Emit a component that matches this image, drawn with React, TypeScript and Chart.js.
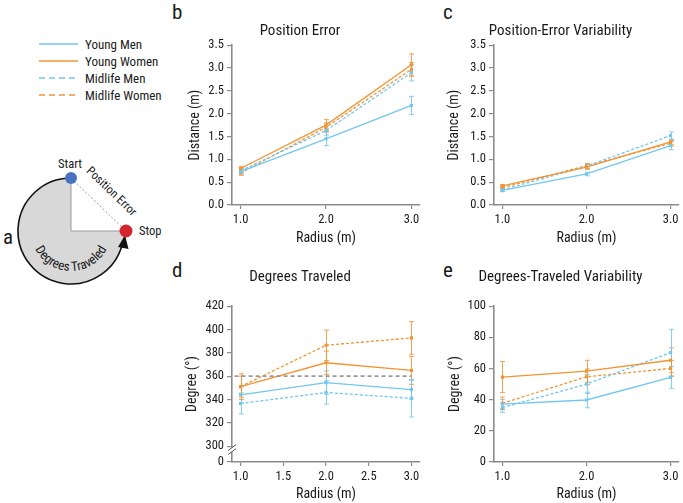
import React, { useEffect, useRef } from 'react';
import { Chart, registerables } from 'chart.js';

Chart.register(...registerables);

const FONT = "'Liberation Sans Narrow', 'Roboto Condensed', 'DejaVu Sans Condensed', 'Arial Narrow', Roboto, sans-serif";
const TEXT = '#1a1a1a';
const AXIS = '#8c8c8c';
Chart.defaults.font.family = FONT;

// ---------- shared categories / series ----------
const radiusValues = [1.0, 2.0, 3.0];
const seriesLabels = ['Young Men', 'Young Women', 'Midlife Men', 'Midlife Women'];
const seriesColors = ['#72c7ef', '#f29432', '#72c7ef', '#f29432'];
const seriesDashed = [false, false, true, true];

// ---------- b: Position Error (m) ----------
const posErrYoungMen = [0.73, 1.45, 2.18];
const posErrYoungWomen = [0.8, 1.75, 3.07];
const posErrMidlifeMen = [0.75, 1.63, 2.9];
const posErrMidlifeWomen = [0.7, 1.7, 2.97];
const posErrYoungMenSE = [0.05, 0.15, 0.2];
const posErrYoungWomenSE = [0.05, 0.12, 0.24];
const posErrMidlifeMenSE = [0.05, 0.1, 0.18];
const posErrMidlifeWomenSE = [0.05, 0.1, 0.15];

// ---------- c: Position-Error Variability (m) ----------
const posVarYoungMen = [0.32, 0.68, 1.3];
const posVarYoungWomen = [0.42, 0.83, 1.38];
const posVarMidlifeMen = [0.33, 0.85, 1.52];
const posVarMidlifeWomen = [0.38, 0.86, 1.35];
const posVarYoungMenSE = [0.03, 0.04, 0.09];
const posVarYoungWomenSE = [0.03, 0.05, 0.06];
const posVarMidlifeMenSE = [0.03, 0.05, 0.08];
const posVarMidlifeWomenSE = [0.03, 0.05, 0.06];

// ---------- d: Degrees Traveled (°) ----------
const degYoungMen = [344, 354.5, 348.5];
const degYoungWomen = [351, 371.5, 365];
const degMidlifeMen = [336.6, 346, 341];
const degMidlifeWomen = [351, 386.5, 392.8];
const degYoungMenSE = [7, 10, 8];
const degYoungWomenSE = [9, 10, 12];
const degMidlifeMenSE = [9, 10, 16];
const degMidlifeWomenSE = [11, 13, 14];
const fullCircleX = [0.93, 3.0];
const fullCircleY = [360, 360];

// ---------- e: Degrees-Traveled Variability (°) ----------
const degVarYoungMen = [37.2, 39.8, 54.3];
const degVarYoungWomen = [54.5, 58.3, 65.3];
const degVarMidlifeMen = [34.9, 50, 70.2];
const degVarMidlifeWomen = [37.7, 54.7, 60];
const degVarYoungMenSE = [3, 5, 7];
const degVarYoungWomenSE = [10, 7, 8];
const degVarMidlifeMenSE = [3, 6, 15];
const degVarMidlifeWomenSE = [4, 5, 5];

// ---------- tick labels ----------
const xTicksInt = [1.0, 2.0, 3.0];
const xTicksHalf = [1.0, 1.5, 2.0, 2.5, 3.0];
const distTicks = [0, 0.5, 1.0, 1.5, 2.0, 2.5, 3.0, 3.5];
const degBreakMin = 286.4;
const degTicks = [degBreakMin, 300, 320, 340, 360, 380, 400, 420];
const degVarTicks = [0, 20, 40, 60, 80, 100];

const errorBarPlugin = {
  id: 'errorBars',
  beforeDatasetsDraw(chart: any) {
    const { ctx } = chart;
    const xs = chart.scales.x;
    const ys = chart.scales.y;
    chart.data.datasets.forEach((ds: any) => {
      if (!ds.errors) return;
      ctx.save();
      ctx.strokeStyle = ds.borderColor;
      ctx.globalAlpha = 0.85;
      ctx.lineWidth = 1;
      ds.data.forEach((p: any, i: number) => {
        const e = ds.errors[i];
        const px = Math.round(xs.getPixelForValue(p.x)) + 0.5;
        const t = ys.getPixelForValue(p.y + e);
        const b = ys.getPixelForValue(p.y - e);
        ctx.beginPath();
        ctx.moveTo(px, t);
        ctx.lineTo(px, b);
        ctx.moveTo(px - 2.5, t);
        ctx.lineTo(px + 2.5, t);
        ctx.moveTo(px - 2.5, b);
        ctx.lineTo(px + 2.5, b);
        ctx.stroke();
      });
      ctx.restore();
    });
  },
};

const axisBreakPlugin = {
  id: 'axisBreak',
  afterDraw(chart: any) {
    if (!chart.options.plugins.axisBreak || !chart.options.plugins.axisBreak.enabled) return;
    const { ctx } = chart;
    const ys = chart.scales.y;
    const xa = chart.chartArea.left;
    const yc = ys.getPixelForValue(300) + 3.5;
    ctx.save();
    ctx.fillStyle = '#ffffff';
    ctx.fillRect(xa - 2, yc - 2, 4, 4);
    ctx.strokeStyle = '#555';
    ctx.lineWidth = 1;
    [-2, 2].forEach((off) => {
      ctx.beginPath();
      ctx.moveTo(xa - 4, yc + off + 3);
      ctx.lineTo(xa + 4, yc + off - 3);
      ctx.stroke();
    });
    ctx.restore();
  },
};

type PanelSpec = {
  left: number;
  top: number;
  width: number;
  height: number;
  title: string;
  yTitle: string;
  yMin: number;
  yMax: number;
  yTicks: number[];
  yFormat: (v: number) => string;
  xTicks: number[];
  means: number[][];
  errs: number[][];
  refLine?: boolean;
  yBreak?: boolean;
  yAxisWidth: number;
  yTitlePad: number;
  xAxisHeight: number;
  xTitlePadBottom: number;
  titlePadTop: number;
  titlePadBottom: number;
  padRight: number;
};

function ChartPanel({ spec }: { spec: PanelSpec }) {
  const ref = useRef<HTMLCanvasElement>(null);
  useEffect(() => {
    if (!ref.current) return;
    const datasets: any[] = spec.means.map((m, i) => ({
      label: seriesLabels[i],
      data: radiusValues.map((x, j) => ({ x, y: m[j] })),
      errors: spec.errs[i],
      borderColor: seriesColors[i],
      backgroundColor: seriesColors[i],
      borderWidth: 1.3,
      borderDash: seriesDashed[i] ? [3, 2] : [],
      pointStyle: 'rect',
      pointRadius: 2.2,
      pointBorderWidth: 0,
      pointBackgroundColor: seriesColors[i],
      tension: 0,
    }));
    if (spec.refLine) {
      datasets.unshift({
        label: '360',
        data: fullCircleX.map((x, j) => ({ x, y: fullCircleY[j] })),
        borderColor: '#9a9a9a',
        borderWidth: 1.6,
        borderDash: [4, 3],
        pointRadius: 0,
      });
    }
    const tickFont = { family: FONT, size: 12.5 };
    const titleFont = { family: FONT, size: 14 };
    const chart = new Chart(ref.current, {
      type: 'line',
      data: { datasets },
      plugins: [errorBarPlugin, axisBreakPlugin],
      options: {
        responsive: false,
        animation: false,
        layout: { padding: { left: 0, right: spec.padRight, top: 0, bottom: 0 } },
        plugins: {
          legend: { display: false },
          tooltip: { enabled: false },
          title: {
            display: true,
            text: spec.title,
            color: TEXT,
            font: { family: FONT, size: 15, weight: 'normal' },
            padding: { top: spec.titlePadTop, bottom: spec.titlePadBottom },
          },
          axisBreak: { enabled: !!spec.yBreak },
        } as any,
        scales: {
          x: {
            type: 'linear',
            min: 0.9,
            max: 3.1,
            afterBuildTicks: (s: any) => {
              s.ticks = spec.xTicks.map((v) => ({ value: v }));
            },
            afterFit: (s: any) => {
              s.height = spec.xAxisHeight;
            },
            ticks: {
              callback: (v: any) => Number(v).toFixed(1),
              color: TEXT,
              font: tickFont,
              padding: 3,
              maxRotation: 0,
              autoSkip: false,
            },
            grid: { drawOnChartArea: false, drawTicks: true, tickLength: 4, color: AXIS, lineWidth: 1.2 },
            border: { display: true, color: AXIS, width: 1.6 },
            title: {
              display: true,
              text: 'Radius (m)',
              color: TEXT,
              font: titleFont,
              padding: { top: 0, bottom: spec.xTitlePadBottom },
            },
          },
          y: {
            type: 'linear',
            min: spec.yMin,
            max: spec.yMax,
            afterBuildTicks: (s: any) => {
              s.ticks = spec.yTicks.map((v) => ({ value: v }));
            },
            afterFit: (s: any) => {
              s.width = spec.yAxisWidth;
            },
            ticks: {
              callback: (v: any) => spec.yFormat(Number(v)),
              color: TEXT,
              font: tickFont,
              padding: 3,
              autoSkip: false,
            },
            grid: { drawOnChartArea: false, drawTicks: true, tickLength: 5, color: AXIS, lineWidth: 1.2 },
            border: { display: true, color: AXIS, width: 1.6 },
            title: {
              display: true,
              text: spec.yTitle,
              color: TEXT,
              font: titleFont,
              padding: { top: spec.yTitlePad, bottom: 0 },
            },
          },
        },
      } as any,
    });
    return () => chart.destroy();
  }, []);
  return (
    <canvas
      ref={ref}
      width={spec.width}
      height={spec.height}
      style={{ position: 'absolute', left: spec.left, top: spec.top, width: spec.width, height: spec.height }}
    />
  );
}

const fmt1 = (v: number) => v.toFixed(1);

const panelB: PanelSpec = {
  left: 180, top: 0, width: 244, height: 250,
  title: 'Position Error', yTitle: 'Distance (m)',
  yMin: 0, yMax: 3.5, yTicks: distTicks, yFormat: fmt1, xTicks: xTicksInt,
  means: [posErrYoungMen, posErrYoungWomen, posErrMidlifeMen, posErrMidlifeWomen],
  errs: [posErrYoungMenSE, posErrYoungWomenSE, posErrMidlifeMenSE, posErrMidlifeWomenSE],
  yAxisWidth: 52, yTitlePad: 7, xAxisHeight: 45, xTitlePadBottom: 3,
  titlePadTop: 22, titlePadBottom: 5.2, padRight: 4,
};

const panelC: PanelSpec = {
  left: 440, top: 0, width: 243, height: 250,
  title: 'Position-Error Variability', yTitle: 'Distance (m)',
  yMin: 0, yMax: 3.5, yTicks: distTicks, yFormat: fmt1, xTicks: xTicksInt,
  means: [posVarYoungMen, posVarYoungWomen, posVarMidlifeMen, posVarMidlifeWomen],
  errs: [posVarYoungMenSE, posVarYoungWomenSE, posVarMidlifeMenSE, posVarMidlifeWomenSE],
  yAxisWidth: 54, yTitlePad: 6, xAxisHeight: 45, xTitlePadBottom: 3,
  titlePadTop: 22, titlePadBottom: 5.2, padRight: 2,
};

const panelD: PanelSpec = {
  left: 180, top: 250, width: 244, height: 253,
  title: 'Degrees Traveled', yTitle: 'Degree (°)',
  yMin: degBreakMin, yMax: 420, yTicks: degTicks,
  yFormat: (v: number) => (v < 300 ? '0' : String(Math.round(v))),
  xTicks: xTicksHalf,
  means: [degYoungMen, degYoungWomen, degMidlifeMen, degMidlifeWomen],
  errs: [degYoungMenSE, degYoungWomenSE, degMidlifeMenSE, degMidlifeWomenSE],
  refLine: true, yBreak: true,
  yAxisWidth: 52, yTitlePad: 4, xAxisHeight: 41, xTitlePadBottom: 0,
  titlePadTop: 18, titlePadBottom: 20.2, padRight: 4,
};

const panelE: PanelSpec = {
  left: 440, top: 250, width: 243, height: 253,
  title: 'Degrees-Traveled Variability', yTitle: 'Degree (°)',
  yMin: 0, yMax: 100, yTicks: degVarTicks, yFormat: (v: number) => String(Math.round(v)),
  xTicks: xTicksInt,
  means: [degVarYoungMen, degVarYoungWomen, degVarMidlifeMen, degVarMidlifeWomen],
  errs: [degVarYoungMenSE, degVarYoungWomenSE, degVarMidlifeMenSE, degVarMidlifeWomenSE],
  yAxisWidth: 54, yTitlePad: 7, xAxisHeight: 41, xTitlePadBottom: 0,
  titlePadTop: 18, titlePadBottom: 20.2, padRight: 2,
};

function LeftColumn() {
  const cx = 71;
  const cy = 231;
  const r = 53;
  const endA = (12 * Math.PI) / 180;
  const ex = cx + r * Math.cos(endA);
  const ey = cy + r * Math.sin(endA);
  const tr = 40;
  const a1 = (160 * Math.PI) / 180;
  const a2 = (20 * Math.PI) / 180;
  const p1x = cx + tr * Math.cos(a1);
  const p1y = cy + tr * Math.sin(a1);
  const p2x = cx + tr * Math.cos(a2);
  const p2y = cy + tr * Math.sin(a2);
  const legendYs = [44, 61, 78, 95];
  return (
    <svg width={683} height={503} style={{ position: 'absolute', left: 0, top: 0 }} fontFamily={FONT}>
      {legendYs.map((y, i) => (
        <g key={i}>
          <line
            x1={39}
            y1={y}
            x2={78}
            y2={y}
            stroke={seriesColors[i]}
            strokeWidth={1.6}
            strokeDasharray={seriesDashed[i] ? '6 4' : undefined}
          />
          <text x={85} y={y + 4.5} fontSize={13} fill={TEXT}>
            {seriesLabels[i]}
          </text>
        </g>
      ))}
      <text x={172} y={19} fontSize={21} fill={TEXT}>b</text>
      <text x={443} y={19} fontSize={21} fill={TEXT}>c</text>
      <text x={3} y={244} fontSize={21} fill={TEXT}>a</text>
      <text x={172} y={277} fontSize={21} fill={TEXT}>d</text>
      <text x={443} y={277} fontSize={21} fill={TEXT}>e</text>

      <path d={`M${cx},${cy} L${cx + r},${cy} A${r},${r} 0 1,1 ${cx},${cy - r} Z`} fill="#d8d8d8" />
      <line x1={cx} y1={cy - r} x2={cx} y2={cy} stroke="#999" strokeWidth={1} />
      <line x1={cx} y1={cy} x2={cx + r} y2={cy} stroke="#999" strokeWidth={1} />
      <path d={`M${cx},${cy - r} A${r},${r} 0 1,0 ${ex},${ey}`} fill="none" stroke="#111" strokeWidth={1.6} />
      <polygon points={`${cx + 54},${cy + 4} ${cx + 57.5},${cy + 18} ${cx + 47},${cy + 16}`} fill="#111" />
      <line x1={cx} y1={cy - r} x2={cx + 55} y2={cy} stroke="#999" strokeWidth={1} strokeDasharray="2 2" />
      <circle cx={cx} cy={cy - r} r={6} fill="#4a72c2" />
      <circle cx={cx + 55} cy={cy} r={6.5} fill="#d1262c" />
      <text x={cx - 1} y={168} fontSize={12.5} fill={TEXT} textAnchor="middle">Start</text>
      <text x={139} y={235} fontSize={12.5} fill={TEXT}>Stop</text>
      <text
        x={0}
        y={0}
        fontSize={12}
        fill={TEXT}
        textAnchor="middle"
        transform={`translate(109,194) rotate(44)`}
      >
        Position Error
      </text>
      <path id="degArc" d={`M${p1x},${p1y} A${tr},${tr} 0 0,0 ${p2x},${p2y}`} fill="none" />
      <text fontSize={13} fill={TEXT}>
        <textPath href="#degArc" startOffset="50%" textAnchor="middle">
          Degrees Traveled
        </textPath>
      </text>
    </svg>
  );
}

export default function App() {
  useEffect(() => {
    document.body.style.margin = '0';
  }, []);
  return (
    <div style={{ position: 'fixed', left: 0, top: 0, width: 683, height: 503, background: '#fff', overflow: 'hidden' }}>
      <LeftColumn />
      <ChartPanel spec={panelB} />
      <ChartPanel spec={panelC} />
      <ChartPanel spec={panelD} />
      <ChartPanel spec={panelE} />
    </div>
  );
}
